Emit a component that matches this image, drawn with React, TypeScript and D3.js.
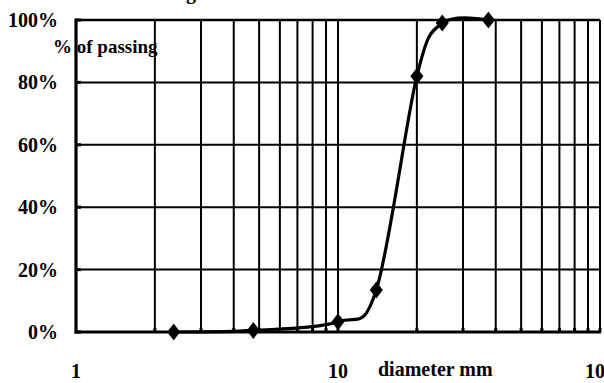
import React from "react";
import * as d3 from "d3";

// Sieve sizes (mm) and cumulative percentage passing
const sieveSizes = [2.36, 4.75, 10, 14, 20, 25, 37.5];
const passing = [0, 0.5, 3.3, 13.5, 82, 99, 100];

const yTicks = [0, 20, 40, 60, 80, 100];
const xLabels = [1, 10, 100];
const gridSizes = [2, 3, 4, 5, 6, 7, 8, 9, 10, 20, 30, 40, 50, 60, 70, 80, 90, 100];

const W = 604;
const H = 383;
const FONT = '"Liberation Serif", "Times New Roman", Tinos, "DejaVu Serif", serif';

const txt: React.CSSProperties = { fontFamily: FONT, fontWeight: "bold" };

export default function App() {
  const x = d3.scaleLog().domain([1, 100]).range([76, 600]);
  const y = d3.scaleLinear().domain([0, 100]).range([332, 20]);

  const pts: [number, number][] = sieveSizes.map((s, i) => [x(s), y(passing[i])]);
  const line = d3.line().curve(d3.curveCatmullRom.alpha(0))(pts) || "";

  const diamond = "M0,-8.5L6.5,0L0,8.5L-6.5,0Z";

  return (
    <svg
      width={W}
      height={H}
      style={{ position: "absolute", left: 0, top: 0, background: "#fff" }}
    >
      <rect width={W} height={H} fill="#fff" />
      {/* title, mostly clipped by the top edge */}
      <text x={196} y={-1.5} textAnchor="end" fontSize={20} style={txt}>
        Grading
      </text>

      {/* vertical grid lines */}
      {gridSizes.map((g) => (
        <line key={"v" + g} x1={x(g)} x2={x(g)} y1={y(100)} y2={y(0)} stroke="#000" strokeWidth={2} />
      ))}
      {/* horizontal grid lines */}
      {yTicks.slice(1).map((t) => (
        <line
          key={"h" + t}
          x1={x(1)}
          x2={x(100)}
          y1={y(t)}
          y2={y(t)}
          stroke="#000"
          strokeWidth={t === 100 ? 2.6 : 2}
        />
      ))}

      {/* axes */}
      <line x1={x(1)} x2={x(1)} y1={y(100) - 1.5} y2={y(0) + 1.5} stroke="#000" strokeWidth={3.2} />
      <line x1={x(1) - 1.5} x2={x(100) + 1} y1={y(0)} y2={y(0)} stroke="#000" strokeWidth={3.2} />

      {/* tick marks */}
      {yTicks.map((t) => (
        <line key={"yt" + t} x1={x(1)} x2={x(1) + 5} y1={y(t)} y2={y(t)} stroke="#000" strokeWidth={3} />
      ))}
      {gridSizes.map((g) => (
        <line key={"xt" + g} x1={x(g)} x2={x(g)} y1={y(0)} y2={y(0) - 4} stroke="#000" strokeWidth={3} />
      ))}

      {/* y labels */}
      {yTicks.map((t) => (
        <text key={"yl" + t} x={58} y={y(t) + 7} textAnchor="end" fontSize={20} style={txt}>
          {t}%
        </text>
      ))}
      {/* x labels */}
      {xLabels.map((v) => (
        <text key={"xl" + v} x={x(v)} y={378} textAnchor="middle" fontSize={20} style={txt}>
          {v}
        </text>
      ))}

      <text x={53} y={53} fontSize={19} style={txt}>
        % of passing
      </text>
      <text x={378} y={376} fontSize={20} style={txt}>
        diameter mm
      </text>

      {/* grading curve */}
      <path d={line} fill="none" stroke="#000" strokeWidth={3.2} />
      {pts.map(([px, py], i) => (
        <path key={"m" + i} d={diamond} transform={`translate(${px},${py})`} fill="#000" />
      ))}
    </svg>
  );
}
